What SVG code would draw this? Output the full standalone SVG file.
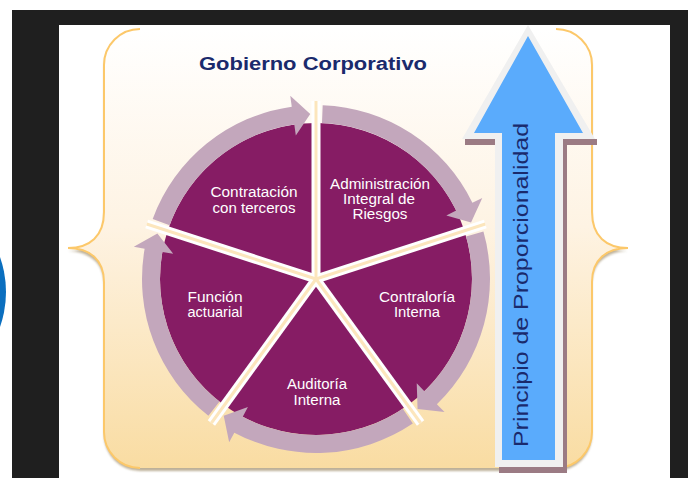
<svg xmlns="http://www.w3.org/2000/svg" width="688" height="478" viewBox="0 0 688 478">
<defs>
<linearGradient id="bg" x1="0" y1="29" x2="0" y2="468" gradientUnits="userSpaceOnUse">
<stop offset="0" stop-color="#ffffff"/>
<stop offset="0.45" stop-color="#fef3e3"/>
<stop offset="1" stop-color="#f9dca2"/>
</linearGradient>
<filter id="blur" x="-5%" y="-5%" width="110%" height="110%"><feGaussianBlur stdDeviation="1.2"/></filter>
</defs>
<style>
.brace{fill:none;stroke:#fcc86a;stroke-width:2}
.slice{fill:#861c64}
.ring{fill:#c3a7bc}
.lbl{font-family:"Liberation Sans",Arial,sans-serif;font-size:14px;fill:#ffffff;text-anchor:middle}
.sepw{stroke:#ffffff;stroke-width:9;stroke-linecap:butt}
.sepc{stroke:#fce6bd;stroke-width:3;stroke-linecap:butt}
</style>
<rect x="0" y="0" width="688" height="478" fill="#ffffff"/>
<circle cx="-99" cy="292" r="105" fill="#0b6fbf"/>
<rect x="12" y="10" width="676" height="468" fill="#1f1f1f"/>
<rect x="59" y="25" width="611" height="453" fill="#ffffff"/>

<g id="frame">
<path d="M140,29 L556,29 A36,36 0 0 1 592,65 L592,212 C592,236 606,248 628,248 C606,249 592,260 592,282 L592,432 A36,36 0 0 1 556,468 L140,468 A36,36 0 0 1 104,432 L104,282 C104,260 90,249 68,248 C90,248 104,236 104,212 L104,65 A36,36 0 0 1 140,29 Z" fill="#a89878" opacity="0.75" transform="translate(0,3)" filter="url(#blur)"/>
<path d="M140,29 L556,29 A36,36 0 0 1 592,65 L592,212 C592,236 606,248 628,248 C606,249 592,260 592,282 L592,432 A36,36 0 0 1 556,468 L140,468 A36,36 0 0 1 104,432 L104,282 C104,260 90,249 68,248 C90,248 104,236 104,212 L104,65 A36,36 0 0 1 140,29 Z" fill="url(#bg)"/>
<path class="brace" d="M140,29 A36,36 0 0 0 104,65 L104,212 C104,236 90,248 68,248 C90,248 104,260 104,282 L104,432 A36,36 0 0 0 140,468"/>
<path class="brace" d="M556,29 A36,36 0 0 1 592,65 L592,212 C592,236 606,248 628,248 C606,248 592,260 592,282 L592,432 A36,36 0 0 1 556,468"/>
</g>

<g id="title">
<text x="313" y="70" font-family="'Liberation Sans',Arial,sans-serif" font-size="18" font-weight="bold" fill="#1a2a6c" text-anchor="middle" textLength="228" lengthAdjust="spacingAndGlyphs">Gobierno Corporativo</text>
</g>

<g id="slice-administracion">
<path class="slice" d="M316,279 L316,123 A156,156 0 0 1 464.37,230.79 Z"/>
</g>
<g id="slice-contraloria">
<path class="slice" d="M316,279 L464.37,230.79 A156,156 0 0 1 407.70,405.21 Z"/>
</g>
<g id="slice-auditoria">
<path class="slice" d="M316,279 L407.70,405.21 A156,156 0 0 1 224.30,405.21 Z"/>
</g>
<g id="slice-funcion">
<path class="slice" d="M316,279 L224.30,405.21 A156,156 0 0 1 167.63,230.79 Z"/>
</g>
<g id="slice-contratacion">
<path class="slice" d="M316,279 L167.63,230.79 A156,156 0 0 1 316,123 Z"/>
</g>

<g id="connectors">
<path class="ring" d="M322.68,105.13 A174,174 0 0 1 472.39,202.72 L482.28,197.90 L471.05,222.57 L446.32,215.44 L456.21,210.61 A156,156 0 0 0 321.99,123.12 Z"/>
<path class="ring" d="M483.43,231.62 A174,174 0 0 1 436.87,404.17 L444.51,412.08 L417.58,409.02 L416.73,383.30 L424.37,391.22 A156,156 0 0 0 466.11,236.52 Z"/>
<path class="ring" d="M412.80,423.59 A174,174 0 0 1 234.31,432.63 L229.15,442.35 L223.73,415.79 L247.93,407.03 L242.76,416.74 A156,156 0 0 0 402.78,408.63 Z"/>
<path class="ring" d="M208.40,415.74 A174,174 0 0 1 144.64,248.78 L133.81,246.87 L157.39,233.52 L173.20,253.82 L162.37,251.91 A156,156 0 0 0 219.53,401.59 Z"/>
<path class="ring" d="M152.70,218.92 A174,174 0 0 1 291.78,106.69 L290.25,95.80 L310.24,114.10 L295.82,135.41 L294.29,124.52 A156,156 0 0 0 169.60,225.13 Z"/>
</g>

<g id="separators">
<line class="sepw" x1="316" y1="279" x2="316" y2="101"/>
<line class="sepw" x1="316" y1="279" x2="485.3" y2="224"/>
<line class="sepw" x1="316" y1="279" x2="420.6" y2="423"/>
<line class="sepw" x1="316" y1="279" x2="211.4" y2="423"/>
<line class="sepw" x1="316" y1="279" x2="146.7" y2="224"/>
<line class="sepc" x1="316" y1="279" x2="316" y2="101"/>
<line class="sepc" x1="316" y1="279" x2="485.3" y2="224"/>
<line class="sepc" x1="316" y1="279" x2="420.6" y2="423"/>
<line class="sepc" x1="316" y1="279" x2="211.4" y2="423"/>
<line class="sepc" x1="316" y1="279" x2="146.7" y2="224"/>
</g>

<g id="labels">
<text class="lbl" x="380" y="189" textLength="100" lengthAdjust="spacingAndGlyphs">Administración</text>
<text class="lbl" x="379" y="204" textLength="72" lengthAdjust="spacingAndGlyphs">Integral de</text>
<text class="lbl" x="380" y="219" textLength="55" lengthAdjust="spacingAndGlyphs">Riesgos</text>
<text class="lbl" x="417" y="302" textLength="76" lengthAdjust="spacingAndGlyphs">Contraloría</text>
<text class="lbl" x="417" y="317" textLength="46" lengthAdjust="spacingAndGlyphs">Interna</text>
<text class="lbl" x="317" y="389" textLength="60" lengthAdjust="spacingAndGlyphs">Auditoría</text>
<text class="lbl" x="317" y="405" textLength="47" lengthAdjust="spacingAndGlyphs">Interna</text>
<text class="lbl" x="215" y="302" textLength="55" lengthAdjust="spacingAndGlyphs">Función</text>
<text class="lbl" x="215" y="317" textLength="55" lengthAdjust="spacingAndGlyphs">actuarial</text>
<text class="lbl" x="254" y="197" textLength="87" lengthAdjust="spacingAndGlyphs">Contratación</text>
<text class="lbl" x="254" y="213" textLength="83" lengthAdjust="spacingAndGlyphs">con terceros</text>
</g>

<g id="proporcionalidad">
<polygon points="465,139 597,139 597,145 567,145 567,473 499,473 499,145 465,145" fill="#9b7b84"/>
<polygon points="528,25 595,139 563,139 563,467 495,467 495,139 462,139" fill="#f0f0f0"/>
<polygon points="528,36 583,133 555,133 555,460 502,460 502,133 474,133" fill="#5aabfc"/>
<text transform="translate(528,447) rotate(-90)" x="0" y="0" font-family="'Liberation Sans',Arial,sans-serif" font-size="20" fill="#1a2a6c" textLength="324" lengthAdjust="spacingAndGlyphs">Principio de Proporcionalidad</text>
</g>
</svg>
